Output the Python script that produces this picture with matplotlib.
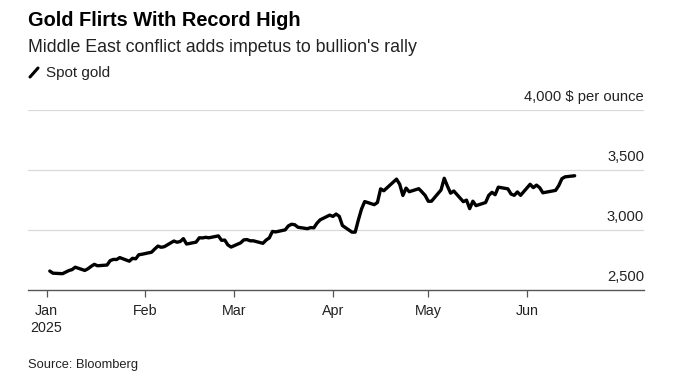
import matplotlib
matplotlib.use("Agg")
import matplotlib.pyplot as plt
import matplotlib.dates as mdates
import numpy as np
import datetime as dt

plt.rcParams['font.family'] = ['Liberation Sans', 'DejaVu Sans']

title = "Gold Flirts With Record High"
subtitle = "Middle East conflict adds impetus to bullion's rally"
series_name = "Spot gold"
source = "Source: Bloomberg"
unit_label = "$ per ounce"

dates = [
    "2025-01-02", "2025-01-03", "2025-01-06", "2025-01-07", "2025-01-08", "2025-01-09", "2025-01-10",
    "2025-01-13", "2025-01-14", "2025-01-15", "2025-01-16", "2025-01-17", "2025-01-20", "2025-01-21",
    "2025-01-22", "2025-01-23", "2025-01-24", "2025-01-27", "2025-01-28", "2025-01-29", "2025-01-30",
    "2025-01-31",
    "2025-02-03", "2025-02-04", "2025-02-05", "2025-02-06", "2025-02-07", "2025-02-10", "2025-02-11",
    "2025-02-12", "2025-02-13", "2025-02-14", "2025-02-17", "2025-02-18", "2025-02-19", "2025-02-20",
    "2025-02-21", "2025-02-24", "2025-02-25", "2025-02-26", "2025-02-27", "2025-02-28",
    "2025-03-03", "2025-03-04", "2025-03-05", "2025-03-06", "2025-03-07", "2025-03-10", "2025-03-11",
    "2025-03-12", "2025-03-13", "2025-03-14", "2025-03-17", "2025-03-18", "2025-03-19", "2025-03-20",
    "2025-03-21", "2025-03-24", "2025-03-25", "2025-03-26", "2025-03-27", "2025-03-28", "2025-03-31",
    "2025-04-01", "2025-04-02", "2025-04-03", "2025-04-04", "2025-04-07", "2025-04-08", "2025-04-09",
    "2025-04-10", "2025-04-11", "2025-04-14", "2025-04-15", "2025-04-16", "2025-04-17", "2025-04-21",
    "2025-04-22", "2025-04-23", "2025-04-24", "2025-04-25", "2025-04-28", "2025-04-29", "2025-04-30",
    "2025-05-01", "2025-05-02", "2025-05-05", "2025-05-06", "2025-05-07", "2025-05-08", "2025-05-09",
    "2025-05-12", "2025-05-13", "2025-05-14", "2025-05-15", "2025-05-16", "2025-05-19", "2025-05-20",
    "2025-05-21", "2025-05-22", "2025-05-23", "2025-05-26", "2025-05-27", "2025-05-28", "2025-05-29",
    "2025-05-30",
    "2025-06-02", "2025-06-03", "2025-06-04", "2025-06-05", "2025-06-06", "2025-06-09", "2025-06-10",
    "2025-06-11", "2025-06-12", "2025-06-13", "2025-06-16",
]
prices = [
    2658, 2640, 2636, 2649, 2662, 2670, 2690,
    2663, 2677, 2697, 2714, 2702, 2708, 2745,
    2755, 2754, 2770, 2740, 2764, 2760, 2794,
    2798,
    2815, 2842, 2866, 2856, 2861, 2908, 2898,
    2904, 2928, 2883, 2899, 2935, 2934, 2939,
    2935, 2951, 2914, 2916, 2875, 2858,
    2893, 2918, 2920, 2910, 2910, 2889, 2916,
    2934, 2988, 2984, 3001, 3034, 3048, 3044,
    3023, 3011, 3020, 3018, 3057, 3085, 3124,
    3113, 3133, 3114, 3037, 2982, 2982, 3083,
    3175, 3237, 3211, 3229, 3343, 3327, 3424,
    3381, 3288, 3349, 3319, 3344, 3317, 3288,
    3239, 3240, 3334, 3431, 3366, 3307, 3325,
    3236, 3249, 3178, 3240, 3203, 3229, 3289,
    3314, 3294, 3357, 3343, 3300, 3289, 3317,
    3289,
    3381, 3353, 3374, 3353, 3310, 3325, 3330,
    3370, 3428, 3443, 3452,
]
y_ticks = [2500, 3000, 3500, 4000]
x_tick_dates = ["2025-01-01", "2025-02-01", "2025-03-01", "2025-04-01", "2025-05-01", "2025-06-01"]
x_tick_labels = ["Jan\n2025", "Feb", "Mar", "Apr", "May", "Jun"]

W, H = 673, 376
fig = plt.figure(figsize=(W / 100, H / 100), dpi=100)
fig.patch.set_facecolor("white")

def fx(px):
    return px / W

def fy(py):
    return 1 - py / H

ax = fig.add_axes([fx(28), fy(290), fx(644) - fx(28), fy(110) - fy(290)])
x = [dt.datetime.strptime(d, "%Y-%m-%d") for d in dates]
ax.plot(x, prices, color="black", lw=2.4, solid_joinstyle="round", solid_capstyle="round", zorder=3)

jan1 = mdates.date2num(dt.datetime(2025, 1, 1))
jun1 = mdates.date2num(dt.datetime(2025, 6, 1))
ax.set_xlim(jan1 - 5.85, jun1 + 36.8)
ax.set_ylim(y_ticks[0], y_ticks[-1])

for s in ["top", "right", "left"]:
    ax.spines[s].set_visible(False)
ax.spines["bottom"].set_color("#555555")
ax.spines["bottom"].set_linewidth(1.0)
ax.set_yticks([])
for v in y_ticks[1:]:
    ax.axhline(v, color="#d9d9d9", lw=0.9, zorder=1)

for i, v in enumerate(y_ticks):
    label = f"{v:,}"
    if i == len(y_ticks) - 1:
        label = f"{v:,} {unit_label}"
    ax.annotate(label, xy=(1, v), xycoords=("axes fraction", "data"),
                xytext=(0, 4), textcoords="offset points",
                ha="right", va="bottom", fontsize=10.6, color="#222222")

ax.set_xticks([mdates.date2num(dt.datetime.strptime(d, "%Y-%m-%d")) for d in x_tick_dates])
ax.set_xticklabels(x_tick_labels, fontsize=10.3, color="#222222", linespacing=1.25)
ax.tick_params(axis="x", length=5, width=0.9, color="#555555", pad=5)

fig.text(fx(28), fy(21), title, fontsize=14.4, fontweight="bold", va="center", ha="left", color="black")
fig.text(fx(28), fy(47), subtitle, fontsize=12.8, va="center", ha="left", color="#222222")
fig.lines.append(plt.Line2D([fx(30), fx(38)], [fy(77), fy(68)], transform=fig.transFigure,
                            color="black", lw=2.2, solid_capstyle="round"))
fig.text(fx(46), fy(73), series_name, fontsize=11, va="center", ha="left", color="#222222")
fig.text(fx(28), fy(365), source, fontsize=9.3, va="center", ha="left", color="#222222")

fig.savefig("out.png", dpi=100)
